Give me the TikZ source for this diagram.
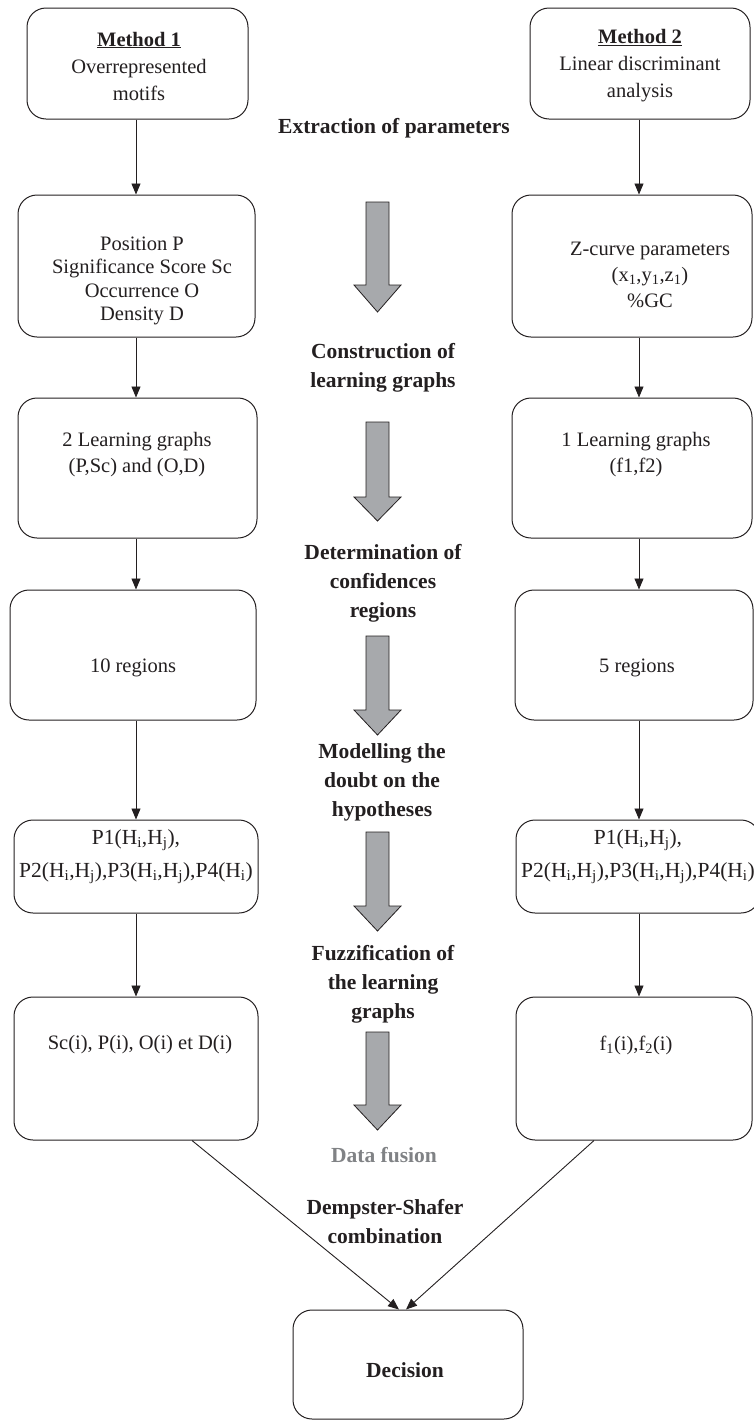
\documentclass[tikz,border=0pt]{standalone}
\usepackage{fontspec}
\setmainfont{Liberation Serif}
\usetikzlibrary{arrows.meta,calc}
\definecolor{ink}{HTML}{231F20}
\definecolor{arrowgray}{HTML}{A7A9AC}
\definecolor{fusiongray}{HTML}{808285}
\newcommand\garrow[3]{%
  \filldraw[fill=arrowgray,draw=ink,line width=0.8pt,line join=miter]
    (366,#1) -- (389,#1) -- (389,#2) -- (401,#2) -- (377.5,#3) -- (354,#2) -- (366,#2) -- cycle;}
\begin{document}
\begin{tikzpicture}[x=1pt,y=-1pt,
  box/.style={draw=ink,line width=1pt,rounded corners=19pt,inner sep=0pt},
  txt/.style={text=ink,align=center,inner sep=0pt,font=\fontsize{20.5}{23.5}\selectfont},
  lbl/.style={text=ink,align=center,inner sep=0pt,font=\fontsize{21.5}{29}\selectfont\bfseries},
  conn/.style={draw=ink,line width=0.9pt,-{Triangle[length=11pt,width=9pt]}}]
\useasboundingbox (0,0) rectangle (753,1422);
% left column boxes
\node[box,minimum width=221pt,minimum height=111pt] (L1) at (137.5,63.5) {};
\node[box,minimum width=237pt,minimum height=142pt] (L2) at (136.5,266) {};
\node[box,minimum width=239pt,minimum height=140pt] (L3) at (137.5,468) {};
\node[box,minimum width=246pt,minimum height=130pt] (L4) at (133,655) {};
\node[box,minimum width=244pt,minimum height=93pt] (L5) at (136,866.5) {};
\node[box,minimum width=244pt,minimum height=143pt] (L6) at (136,1068.5) {};
% right column boxes
\node[box,minimum width=220pt,minimum height=111pt] (R1) at (640,63.5) {};
\node[box,minimum width=240pt,minimum height=142pt] (R2) at (632,266) {};
\node[box,minimum width=240pt,minimum height=140pt] (R3) at (632,468) {};
\node[box,minimum width=238pt,minimum height=130pt] (R4) at (634,655) {};
\node[box,minimum width=244pt,minimum height=93pt] (R5) at (638,866.5) {};
\node[box,minimum width=236pt,minimum height=143pt] (R6) at (634,1068.5) {};
% decision
\node[box,minimum width=230pt,minimum height=109pt] (D) at (408,1364.5) {};
% box texts
\node[txt,font=\fontsize{20.5}{27}\selectfont] (t1) at (139,66) {\underline{\textbf{Method 1}}\\Overrepresented\\motifs};
\node[txt,font=\fontsize{20.5}{27}\selectfont] (t7) at (640,66) {\underline{\textbf{Method 2}}\\Linear discriminant\\analysis};
\node[txt] (t2) at (142,281) {Position P\\Significance Score Sc\\Occurrence O\\Density D};
\node[txt,font=\fontsize{20.5}{26}\selectfont] (t8) at (650,275) {Z-curve parameters\\(x\textsubscript{1},y\textsubscript{1},z\textsubscript{1})\\\%GC};
\node[txt,font=\fontsize{20.5}{26}\selectfont] (t3) at (137,455) {2 Learning graphs\\(P,Sc) and (O,D)};
\node[txt,font=\fontsize{20.5}{26}\selectfont] (t9) at (636,455) {1 Learning graphs\\(f1,f2)};
\node[txt] (t4) at (133,668) {10 regions};
\node[txt] (t10) at (637,668) {5 regions};
\node[txt,font=\fontsize{21.5}{33}\selectfont] (t5) at (136,857) {P1(H\textsubscript{i},H\textsubscript{j}),\\P2(H\textsubscript{i},H\textsubscript{j}),P3(H\textsubscript{i},H\textsubscript{j}),P4(H\textsubscript{i})};
\node[txt,font=\fontsize{21.5}{33}\selectfont] (t11) at (638,857) {P1(H\textsubscript{i},H\textsubscript{j}),\\P2(H\textsubscript{i},H\textsubscript{j}),P3(H\textsubscript{i},H\textsubscript{j}),P4(H\textsubscript{i})};
\node[txt] (t6) at (140,1045) {Sc(i), P(i), O(i) et D(i)};
\node[txt] (t12) at (636,1045) {f\textsubscript{1}(i),f\textsubscript{2}(i)};
\node[txt,font=\fontsize{21.5}{24}\selectfont\bfseries] (t13) at (405,1370) {Decision};
% central labels
\node[lbl] (a1) at (394,128) {Extraction of parameters};
\node[lbl] (a2) at (383,368) {Construction of\\ learning graphs};
\node[lbl] (a3) at (383,583) {Determination of\\confidences\\regions};
\node[lbl] (a4) at (382,782) {Modelling the\\doubt on the\\hypotheses};
\node[lbl] (a5) at (383,984) {Fuzzification of\\the learning\\graphs};
\node[lbl,text=fusiongray] (a6) at (384,1155) {Data fusion};
\node[lbl] (a7) at (385,1222) {Dempster-Shafer\\combination};
% big gray arrows
\garrow{202}{285}{312}
\garrow{422}{497}{521}
\garrow{636}{710}{735}
\garrow{832}{906}{931}
\garrow{1032}{1105}{1130}
% connectors
\coordinate (cl) at (136,0);
\coordinate (cr) at (639,0);
\draw[conn] (L1.south -| cl) -- (L2.north -| cl);
\draw[conn] (L2.south -| cl) -- (L3.north -| cl);
\draw[conn] (L3.south -| cl) -- (L4.north -| cl);
\draw[conn] (L4.south -| cl) -- (L5.north -| cl);
\draw[conn] (L5.south -| cl) -- (L6.north -| cl);
\draw[conn] (R1.south -| cr) -- (R2.north -| cr);
\draw[conn] (R2.south -| cr) -- (R3.north -| cr);
\draw[conn] (R3.south -| cr) -- (R4.north -| cr);
\draw[conn] (R4.south -| cr) -- (R5.north -| cr);
\draw[conn] (R5.south -| cr) -- (R6.north -| cr);
\draw[conn] ($(L6.south)+(56,0)$) -- ($(D.north)+(-9,0)$);
\draw[conn] ($(R6.south)+(-40,0)$) -- ($(D.north)+(-2,0)$);
\end{tikzpicture}
\end{document}
